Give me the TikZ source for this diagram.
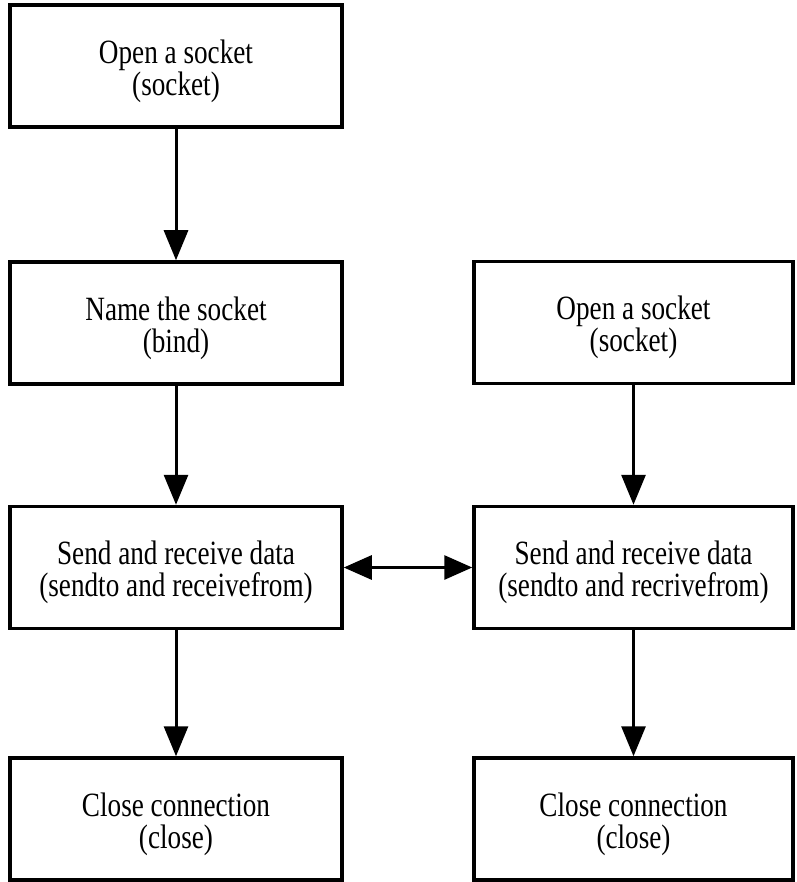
\documentclass[tikz,border=0pt]{standalone}
\usepackage{fontspec}
\setmainfont{Liberation Serif}
\usetikzlibrary{arrows.meta}
\begin{document}
\begin{tikzpicture}[x=1pt,y=-1pt,
  box/.style={draw,line width=3.5pt,minimum height=122pt,inner sep=0pt},
  lbox/.style={box,minimum width=332pt},
  rbox/.style={box,minimum width=319pt},
  txt/.style={align=center,inner sep=0pt,xscale=0.8,transform shape,font=\fontsize{34}{32}\selectfont},
  arr/.style={line width=3pt,-{Triangle[length=30pt,width=24pt]}},
  darr/.style={line width=3pt,{Triangle[length=28pt,width=24pt]}-{Triangle[length=28pt,width=24pt]}}]
\useasboundingbox (0,0) rectangle (796,882);
\node[lbox] (L1) at (176,66) {};
\node[lbox] (L2) at (176,323) {};
\node[lbox] (L3) at (176,567.5) {};
\node[lbox] (L4) at (176,819) {};
\node[rbox] (R1) at (633.5,322.5) {};
\node[rbox] (R2) at (633.5,567.5) {};
\node[rbox] (R3) at (633.5,819) {};
\node[txt] (t1) at ([yshift=-5pt]L1.center) {Open a socket\\(socket)};
\node[txt] (t2) at ([yshift=-5pt]L2.center) {Name the socket\\(bind)};
\node[txt] (t3) at ([yshift=-5pt]L3.center) {Send and receive data\\(sendto and receivefrom)};
\node[txt] (t4) at ([yshift=-5pt]L4.center) {Close connection\\(close)};
\node[txt] (t5) at ([yshift=-5pt]R1.center) {Open a socket\\(socket)};
\node[txt] (t6) at ([yshift=-5pt]R2.center) {Send and receive data\\(sendto and recrivefrom)};
\node[txt] (t7) at ([yshift=-5pt]R3.center) {Close connection\\(close)};
\draw[arr] (L1) -- (L2);
\draw[arr] (L2) -- (L3);
\draw[arr] (L3) -- (L4);
\draw[arr] (R1) -- (R2);
\draw[arr] (R2) -- (R3);
\draw[darr] (L3) -- (R2);
\end{tikzpicture}
\end{document}
